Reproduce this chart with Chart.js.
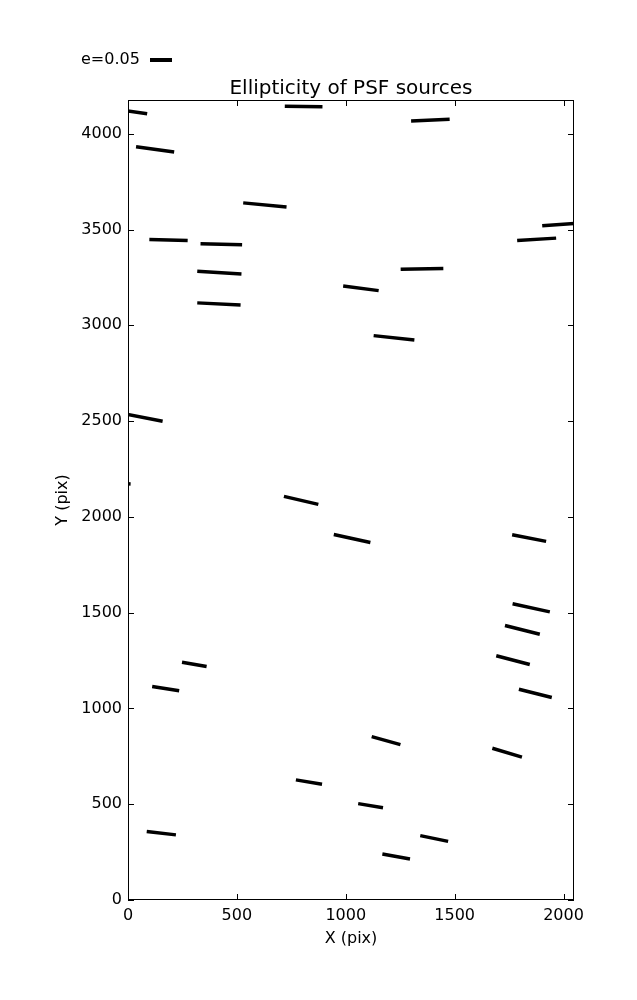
<!DOCTYPE html>
<html>
<head>
<meta charset="utf-8">
<script src="https://cdn.jsdelivr.net/npm/chart.js@4"></script>
<style>
  body { margin: 0; background: #fff; }
  canvas { display: block; }
</style>
</head>
<body>
<canvas id="psfChart" width="637" height="1000"></canvas>
<script>
// Whisker endpoints in detector pixels (start x/y, end x/y)
const startX = [-10, 37, 720, 529, 98, 333, 1300, 1902, 1787, 318, 318, -5, 1252, 988, 1128, -120,
                716, 945, 248, 111, 1764, 1766, 1731, 1691, 1795, 86, 771, 1119, 1673, 1057, 1342, 1168];
const startY = [4120, 3932, 4144, 3639, 3448, 3425, 4067, 3519, 3443, 3282, 3117, 2535, 3292, 3205, 2946, 2180,
                2107, 1908, 1241, 1114, 1907, 1546, 1433, 1275, 1100, 357, 627, 853, 792, 503, 336, 240];
const endX = [88, 212, 893, 728, 274, 524, 1477, 2060, 1966, 521, 517, 159, 1448, 1151, 1315, 12,
              874, 1113, 361, 235, 1920, 1937, 1891, 1845, 1946, 220, 891, 1251, 1809, 1171, 1470, 1295];
const endY = [4104, 3904, 4141, 3618, 3442, 3420, 4075, 3532, 3455, 3268, 3106, 2499, 3296, 3181, 2923, 2172,
              2065, 1866, 1219, 1092, 1872, 1504, 1387, 1229, 1057, 340, 604, 811, 746, 482, 306, 214];

const xTicks = [0, 500, 1000, 1500, 2000];
const yTicks = [0, 500, 1000, 1500, 2000, 2500, 3000, 3500, 4000];
const xMax = 2048;
const yMax = 4176;
const keyLabel = 'e=0.05';
const chartTitle = 'Ellipticity of PSF sources';

const FONT = 'DejaVu Sans';

// one dataset, segments separated by null gaps
const segPoints = [];
for (let i = 0; i < startX.length; i++) {
    segPoints.push({ x: startX[i], y: startY[i] });
    segPoints.push({ x: endX[i], y: endY[i] });
    segPoints.push({ x: endX[i], y: null });
}

// frame, inward ticks, title and the e=0.05 key
const framePlugin = {
    id: 'frame',
    afterDraw(chart) {
        const { ctx, chartArea: a, scales } = chart;
        ctx.save();
        ctx.strokeStyle = '#000';
        ctx.lineWidth = 1;
        ctx.strokeRect(a.left + 0.5, a.top + 0.5, a.right - a.left - 1, a.bottom - a.top - 1);

        const tl = 6;
        ctx.beginPath();
        xTicks.forEach(v => {
            const px = Math.round(scales.x.getPixelForValue(v)) + 0.5;
            ctx.moveTo(px, a.bottom); ctx.lineTo(px, a.bottom - tl);
            ctx.moveTo(px, a.top); ctx.lineTo(px, a.top + tl);
        });
        yTicks.forEach(v => {
            const py = Math.round(scales.y.getPixelForValue(v)) + 0.5;
            ctx.moveTo(a.left, py); ctx.lineTo(a.left + tl, py);
            ctx.moveTo(a.right, py); ctx.lineTo(a.right - tl, py);
        });
        ctx.stroke();

        ctx.fillStyle = '#000';
        ctx.font = '20px "' + FONT + '"';
        ctx.textAlign = 'center';
        ctx.textBaseline = 'alphabetic';
        ctx.fillText(chartTitle, (a.left + a.right) / 2, 94);

        ctx.font = '16px "' + FONT + '"';
        ctx.textAlign = 'left';
        ctx.textBaseline = 'middle';
        ctx.fillText(keyLabel, 81, 60);
        ctx.lineWidth = 4;
        ctx.lineCap = 'butt';
        ctx.beginPath();
        ctx.moveTo(150, 60);
        ctx.lineTo(172, 60);
        ctx.stroke();
        ctx.restore();
    }
};

const ctx = document.getElementById('psfChart').getContext('2d');

new Chart(ctx, {
    type: 'scatter',
    data: {
        datasets: [
            {
                data: segPoints,
                showLine: true,
                spanGaps: false,
                borderColor: '#000',
                borderWidth: 3.5,
                borderCapStyle: 'butt',
                pointRadius: 0,
                pointHoverRadius: 0,
            },
        ],
    },
    options: {
        responsive: false,
        animation: false,
        layout: {
            padding: { left: 0, top: 100, right: 63, bottom: 0 },
        },
        scales: {
            x: {
                type: 'linear',
                min: 0,
                max: xMax,
                afterBuildTicks: scale => { scale.ticks = xTicks.map(v => ({ value: v })); },
                afterFit: scale => { scale.height = 100; },
                grid: { display: false, drawTicks: false },
                border: { display: false },
                ticks: {
                    padding: 6,
                    color: '#000',
                    maxRotation: 0,
                    callback: v => String(v),
                    font: { size: 16, family: FONT },
                },
                title: {
                    display: true,
                    text: 'X (pix)',
                    color: '#000',
                    padding: { top: 0, bottom: 52 },
                    font: { size: 16, family: FONT },
                },
            },
            y: {
                type: 'linear',
                min: 0,
                max: yMax,
                afterBuildTicks: scale => { scale.ticks = yTicks.map(v => ({ value: v })); },
                afterFit: scale => { scale.width = 128; },
                grid: { display: false, drawTicks: false },
                border: { display: false },
                ticks: {
                    padding: 6,
                    color: '#000',
                    callback: v => String(v),
                    font: { size: 16, family: FONT },
                },
                title: {
                    display: true,
                    text: 'Y (pix)',
                    color: '#000',
                    padding: { top: 53, bottom: 0 },
                    font: { size: 16, family: FONT },
                },
            },
        },
        plugins: {
            legend: { display: false },
            tooltip: { enabled: false },
        },
    },
    plugins: [framePlugin],
});
</script>
</body>
</html>
